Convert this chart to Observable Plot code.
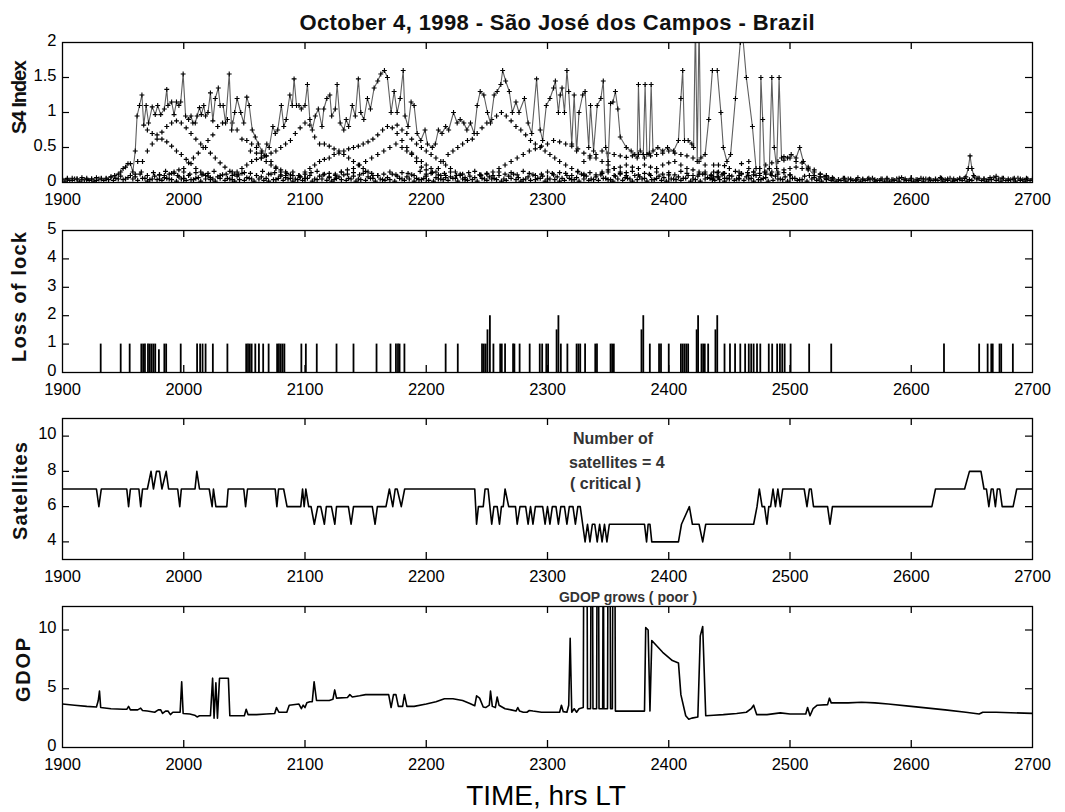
<!DOCTYPE html>
<html><head><meta charset="utf-8">
<script src="https://cdn.jsdelivr.net/npm/d3@7"></script>
<script src="https://cdn.jsdelivr.net/npm/@observablehq/plot@0.6"></script>
<style>
body{margin:0;background:#fff;}
#wrap{position:relative;width:1065px;height:812px;overflow:hidden;background:#fff;font-family:"Liberation Sans",Arial,Helvetica,sans-serif;}
#overlay{position:absolute;left:0;top:0;pointer-events:none;}
</style></head><body><div id="wrap"></div>
<script>
// ---------------- DATA ----------------
const xTicks = [1900, 2000, 2100, 2200, 2300, 2400, 2500, 2600, 2700];
const s4Ticks = [0, 0.5, 1, 1.5, 2];
const lossTicks = [0, 1, 2, 3, 4, 5];
const satTicks = [4, 6, 8, 10];
const gdopTicks = [0, 5, 10];

const titleText = "October 4, 1998 - São José dos Campos - Brazil";
const yLabels = ["S4 Index", "Loss of lock", "Satellites", "GDOP"];
const xLabel = "TIME, hrs LT";
const noteSats = ["Number of", "satellites = 4", "( critical )"];
const noteGdop = "GDOP grows ( poor )";

// S4 maximum envelope [time, S4]
const s4Envelope = [
[1900,0.05],[1904,0.04],[1908,0.06],[1912,0.05],[1916,0.04],[1920,0.06],[1924,0.05],[1928,0.07],[1932,0.05],[1936,0.06],[1940,0.08],[1943,0.1],[1946,0.12],[1948,0.15],[1950,0.2],[1952,0.22],[1954,0.27],[1956,0.27],[1958,0.15],
[1960,0.45],[1961.5,0.95],[1963.5,1.1],[1965.5,1.25],[1967,0.82],[1969,1.1],[1971,0.85],[1974,1.08],[1976.5,0.97],[1978.5,1.1],[1981,0.97],[1984,1.05],[1986,1.33],[1987,1.1],[1990,1.15],[1992,0.97],[1994,1.15],[1996,1.1],[1997.5,1.15],[1999.5,1.55],
[2001.5,0.95],[2004,0.9],[2006,0.95],[2007.5,0.85],[2009.5,0.85],[2011,0.95],[2013,1.07],[2014.5,0.97],[2016.5,1.1],[2018,0.95],[2020,1.0],[2022,1.28],[2024,0.88],[2026,1.2],[2028.5,1.35],[2030,1.1],[2032.5,1.1],[2034.5,0.85],[2037.5,1.55],[2039.5,0.75],
[2042,1.0],[2044,1.2],[2047,1.0],[2049.5,0.85],[2052,1.22],[2054,1.1],[2056.5,0.75],[2059,0.65],[2061.5,0.55],[2064.5,0.45],[2066.5,0.38],[2068.5,0.55],[2070.5,0.5],[2073.5,0.8],[2075.5,0.7],[2077.5,0.75],[2080.5,1.1],[2082.5,0.8],[2084.5,0.9],[2087.5,1.25],
[2089.5,1.1],[2091,1.48],[2093,1.1],[2095,1.1],[2097,1.05],[2100,1.1],[2102,1.4],[2104,0.9],[2106,0.75],[2108.5,0.95],[2111,1.05],[2114,0.8],[2115.5,1.05],[2118,1.2],[2120.5,1.25],[2122,0.95],[2125,1.05],[2126.5,1.4],[2129,0.85],[2132,0.75],
[2134,0.9],[2136,0.8],[2139,1.1],[2141.5,0.95],[2144,1.48],[2146,1.0],[2148.5,0.9],[2151.5,1.2],[2154,1.05],[2157,1.35],[2160,1.45],[2162.5,1.55],[2165.5,1.6],[2168,1.5],[2171,1.0],[2173.5,1.3],[2176,1.0],[2178.5,1.2],[2181,1.6],[2182.5,0.95],
[2185,0.8],[2187.5,1.15],[2190,1.1],[2192.5,0.7],[2195.5,0.6],[2199,0.75],[2201,0.55],[2205,0.5],[2207.5,0.55],[2210,0.75],[2213,0.7],[2216,0.8],[2218.5,0.75],[2222.5,1.0],[2225.5,0.85],[2228,0.9],[2231,0.85],[2233.5,0.75],[2236.5,0.85],[2239.5,0.7],
[2242,1.1],[2244.5,1.3],[2247.5,1.25],[2250.5,1.0],[2253,0.85],[2256,1.25],[2258.5,1.3],[2261.5,1.4],[2263,1.6],[2265.5,1.45],[2268.5,1.3],[2271,1.0],[2274,1.15],[2276.5,1.0],
[2281,1.2],[2284,0.85],[2287,0.7],[2291,1.48],[2294,0.75],[2296,0.6],[2299,1.1],[2302,1.2],[2305,1.35],[2306.5,1.45],[2309,1.0],[2310.5,1.25],[2312,1.35],[2314,1.0],[2316,1.6],[2317.5,1.3],[2320,0.55],[2322,1.25],[2324,0.45],[2326,1.0],
[2329,1.25],[2331,1.3],[2334,0.5],[2335.5,1.1],[2338,0.45],[2341,1.1],[2344,1.2],[2346,1.45],[2348,0.5],[2350,0.3],[2352,1.13],[2354,1.15],[2356,1.3],[2358,1.05],[2360,0.65],[2365,0.5],[2369,0.45],[2372,0.4],[2374,0.35],[2375,1.4],
[2376.5,0.45],[2379,0.4],[2380.5,1.4],[2382,0.4],[2384,0.42],[2385.5,1.4],[2387,0.45],[2391,0.5],[2395,0.45],[2399,0.5],[2404,0.45],[2408,0.6],[2410,1.2],[2411.5,1.6],[2413,0.6],[2416,0.6],[2419,0.55],[2420.5,0.5],[2422,2.3],[2423.5,0.3],
[2425,2.3],[2426.5,0.35],[2430,0.4],[2433,0.9],[2436,1.6],[2440,1.6],[2443,1.0],[2445,0.5],[2448,0.3],[2451,0.4],[2455,1.2],[2459,2.0],[2461,2.1],[2464,1.5],[2469,0.8],[2472,0.2],[2475,0.2],[2476,1.5],[2477.5,0.9],[2479,0.15],
[2483,0.2],[2485,1.5],[2487,0.5],[2489,0.2],[2491,1.5],[2493,0.35],[2495,0.37],[2498,0.35],[2501,0.4],[2505,0.35],[2508,0.5],[2511,0.3],[2515,0.2],[2520,0.1],[2525,0.08],[2530,0.06],
[2535,0.05],[2540,0.04],[2545,0.06],[2550,0.05],[2555,0.04],[2560,0.05],[2565,0.06],[2570,0.04],[2575,0.05],[2580,0.05],[2585,0.04],[2590,0.06],[2595,0.05],[2600,0.06],[2605,0.04],[2610,0.05],[2615,0.05],[2620,0.04],[2625,0.06],[2630,0.05],
[2635,0.05],[2640,0.06],[2645,0.08],[2647,0.2],[2648.5,0.38],[2650,0.2],[2651.5,0.1],[2655,0.06],[2660,0.05],[2665,0.07],[2670,0.09],[2675,0.06],[2680,0.05],[2685,0.06],[2690,0.05],[2695,0.06],[2700,0.05]
];

// S4 of the other satellites (tracks) [time, S4]
const s4TrackA = [[1970,0.75],[1974,0.7],[1978,0.68],[1982,0.62],[1986,0.58],[1990,0.52],[1994,0.45],[1998,0.4],[2002,0.33],[2006,0.27],[2010,0.2],[2014,0.15],[2018,0.1],[2022,0.07]];
const s4TrackB = [[1962,0.3],[1966,0.3],[1970,0.45],[1974,0.55],[1978,0.62],[1982,0.72],[1986,0.8],[1990,0.85],[1994,0.88],[1998,0.85],[2002,0.78],[2006,0.7],[2010,0.62],[2014,0.55],[2018,0.5],[2022,0.42],[2026,0.35],[2030,0.28],[2034,0.22],[2038,0.16],[2042,0.12]];
const s4TrackC = [[1980,0.05],[1984,0.1],[1988,0.12],[1992,0.15],[1996,0.18],[2000,0.2],[2004,0.28],[2008,0.35],[2012,0.42],[2016,0.5],[2020,0.6],[2024,0.68],[2028,0.8],[2032,0.85],[2036,0.9],[2040,0.85],[2044,0.75],[2048,0.62],[2052,0.6],[2056,0.55],[2060,0.5],[2064,0.42],[2068,0.38],[2072,0.3],[2076,0.22],[2080,0.15],[2084,0.1],[2088,0.06]];
const s4TrackD = [[2040,0.1],[2044,0.15],[2048,0.2],[2052,0.25],[2056,0.3],[2060,0.33],[2064,0.35],[2068,0.38],[2072,0.42],[2076,0.45],[2080,0.5],[2084,0.55],[2088,0.6],[2092,0.7],[2096,0.78],[2100,0.85],[2104,0.82],[2108,0.65],[2112,0.55],[2116,0.55],[2120,0.52],[2124,0.48],[2128,0.45],[2132,0.4],[2136,0.35],[2140,0.3],[2144,0.25],[2148,0.2],[2152,0.15],[2156,0.1]];
const s4TrackE = [[2055,0.45],[2060,0.42],[2064,0.35],[2068,0.3],[2072,0.25],[2076,0.2],[2080,0.18],[2084,0.15],[2090,0.1],[2096,0.08]];
const s4TrackF = [[2095,0.1],[2100,0.15],[2104,0.2],[2108,0.25],[2112,0.3],[2116,0.33],[2120,0.35],[2124,0.4],[2128,0.42],[2132,0.45],[2136,0.48],[2140,0.5],[2144,0.52],[2148,0.55],[2152,0.58],[2156,0.62],[2160,0.68],[2164,0.75],[2168,0.8],[2172,0.78],[2176,0.7],[2180,0.6],[2184,0.5],[2188,0.42],[2192,0.35],[2196,0.3],[2200,0.25],[2204,0.2],[2208,0.15],[2212,0.1],[2216,0.07]];
const s4TrackG = [[2120,0.08],[2125,0.12],[2130,0.15],[2135,0.18],[2140,0.2],[2145,0.25],[2150,0.3],[2155,0.35],[2160,0.4],[2165,0.45],[2170,0.5],[2175,0.55],[2180,0.5],[2184,0.45],[2188,0.4],[2192,0.3],[2196,0.22],[2200,0.18]];
const s4TrackH = [[2176,0.82],[2180,0.75],[2184,0.7],[2188,0.62],[2192,0.55],[2196,0.5],[2200,0.45],[2204,0.4],[2208,0.35],[2212,0.3],[2216,0.25],[2220,0.2],[2224,0.15],[2228,0.1],[2232,0.07]];
const s4TrackI = [[2205,0.15],[2210,0.2],[2214,0.3],[2218,0.4],[2222,0.45],[2226,0.5],[2230,0.55],[2234,0.6],[2238,0.62],[2242,0.7],[2246,0.78],[2250,0.85],[2254,0.9],[2258,0.95],[2262,1.0],[2266,0.95],[2270,0.88],[2274,0.8],[2278,0.75],[2282,0.68],[2286,0.6],[2290,0.55],[2294,0.5],[2298,0.45],[2302,0.4],[2306,0.35],[2310,0.3],[2315,0.25],[2320,0.2],[2325,0.15],[2330,0.1]];
const s4TrackJ = [[2245,0.1],[2250,0.12],[2255,0.15],[2260,0.2],[2265,0.25],[2270,0.3],[2275,0.35],[2280,0.4],[2285,0.45],[2290,0.48],[2295,0.52],[2300,0.55],[2305,0.6],[2310,0.58],[2315,0.55],[2320,0.52],[2325,0.48],[2330,0.42],[2335,0.38],[2340,0.35],[2345,0.3],[2350,0.25],[2355,0.2],[2360,0.15],[2365,0.1]];
const s4TrackK = [[2330,0.3],[2335,0.35],[2340,0.4],[2345,0.45],[2350,0.42],[2355,0.4],[2360,0.38],[2365,0.36],[2370,0.38],[2375,0.4],[2380,0.35],[2385,0.38],[2390,0.4],[2395,0.42],[2400,0.45],[2405,0.42],[2410,0.4],[2415,0.38],[2420,0.35],[2425,0.3],[2430,0.25]];
const s4TrackL = [[2345,0.15],[2350,0.18],[2355,0.2],[2360,0.22],[2365,0.25],[2370,0.22],[2375,0.2],[2380,0.25],[2385,0.22],[2390,0.2],[2395,0.25],[2400,0.28],[2405,0.3],[2410,0.25],[2415,0.2],[2420,0.18],[2425,0.15],[2430,0.12],[2435,0.1]];
const s4TrackM = [[2437,0.25],[2437,0.15],[2437,0.08],[2441,0.25],[2441,0.15],[2441,0.08],[2446,0.24],[2446,0.13],[2446,0.06],[2450,0.2],[2450,0.1],[2458,0.15],[2458,0.1],[2458,0.05],[2460,0.27],[2466,0.3],[2466,0.2],[2466,0.1],[2470,0.15]];
const s4TrackN = [[2470,0.15],[2475,0.2],[2480,0.25],[2485,0.28],[2490,0.3],[2495,0.32],[2500,0.35],[2505,0.3],[2510,0.28],[2515,0.22],[2520,0.18],[2525,0.12],[2530,0.1],[2535,0.07]];
const s4TrackO = [[2475,0.1],[2480,0.12],[2485,0.15],[2490,0.15],[2495,0.18],[2500,0.2],[2505,0.22],[2510,0.2],[2515,0.18],[2520,0.15],[2525,0.12],[2530,0.08]];

// near-zero S4 of low-scintillation satellites, sampled every 4 (A from 1900, B from 1902) and every 5 (C from 1960)
const s4FloorA = [
0.04,0.06,0.03,0.05,0.07,0.04,0.05,0.03,0.06,0.05,
0.08,0.06,0.09,0.05,0.1,0.08,0.12,0.06,0.04,0.09,
0.11,0.07,0.05,0.13,0.08,0.06,0.1,0.04,0.07,0.12,
0.09,0.05,0.08,0.11,0.06,0.04,0.09,0.13,0.07,0.05,
0.1,0.08,0.06,0.12,0.04,0.09,0.07,0.11,0.05,0.08,
0.06,0.1,0.05,0.09,0.12,0.07,0.04,0.08,0.11,0.06,
0.09,0.05,0.13,0.08,0.06,0.1,0.04,0.07,0.12,0.09,
0.05,0.08,0.11,0.06,0.04,0.09,0.13,0.07,0.05,0.1,
0.08,0.06,0.12,0.04,0.09,0.07,0.11,0.05,0.08,0.06,
0.1,0.05,0.09,0.12,0.07,0.04,0.08,0.11,0.06,0.09,
0.05,0.13,0.08,0.06,0.1,0.04,0.07,0.12,0.09,0.05,
0.08,0.11,0.06,0.04,0.09,0.13,0.07,0.05,0.1,0.08,
0.06,0.12,0.04,0.09,0.07,0.11,0.05,0.08,0.06,0.1,
0.05,0.09,0.12,0.07,0.04,0.08,0.11,0.06,0.09,0.05,
0.13,0.08,0.06,0.1,0.04,0.07,0.12,0.09,0.05,0.08,
0.11,0.06,0.04,0.09,0.1,0.07,0.05,0.08,0.06,0.05,
0.04,0.06,0.05,0.03,0.07,0.04,0.05,0.06,0.03,0.05,
0.06,0.04,0.05,0.07,0.03,0.05,0.04,0.06,0.05,0.04,
0.05,0.07,0.04,0.06,0.03,0.05,0.06,0.04,0.08,0.06,
0.05,0.04,0.07,0.05,0.06,0.03,0.05,0.06,0.04,0.05,
0.05];
const s4FloorB = [
0.02,0.03,0.05,0.02,0.04,0.03,0.02,0.05,0.03,0.04,
0.03,0.05,0.04,0.07,0.05,0.03,0.06,0.02,0.05,0.04,
0.03,0.06,0.04,0.02,0.05,0.03,0.04,0.06,0.02,0.05,
0.04,0.02,0.06,0.03,0.05,0.02,0.04,0.03,0.06,0.02,
0.05,0.03,0.02,0.04,0.06,0.03,0.05,0.02,0.04,0.03,
0.06,0.02,0.04,0.05,0.03,0.02,0.06,0.04,0.03,0.05,
0.02,0.04,0.03,0.06,0.02,0.05,0.03,0.04,0.02,0.06,
0.03,0.05,0.02,0.04,0.06,0.03,0.02,0.05,0.04,0.03,
0.06,0.02,0.05,0.03,0.04,0.02,0.06,0.03,0.05,0.04,
0.02,0.03,0.06,0.04,0.02,0.05,0.03,0.04,0.06,0.02,
0.05,0.04,0.02,0.03,0.06,0.04,0.02,0.05,0.03,0.04,
0.03,0.06,0.04,0.02,0.05,0.03,0.06,0.02,0.04,0.05,
0.02,0.04,0.06,0.03,0.02,0.05,0.04,0.03,0.06,0.02,
0.04,0.02,0.05,0.06,0.03,0.04,0.02,0.05,0.03,0.06,
0.03,0.05,0.02,0.04,0.06,0.02,0.03,0.05,0.04,0.02,
0.06,0.03,0.04,0.02,0.05,0.03,0.02,0.04,0.03,0.02,
0.03,0.02,0.04,0.03,0.02,0.03,0.04,0.02,0.03,0.02,
0.02,0.03,0.02,0.04,0.03,0.02,0.03,0.02,0.04,0.03,
0.03,0.02,0.03,0.02,0.04,0.03,0.02,0.03,0.05,0.03,
0.02,0.04,0.03,0.02,0.03,0.04,0.02,0.03,0.02,0.03];
const s4FloorC = [
0.12,0.15,0.1,0.14,0.11,0.16,0.13,0.1,0.15,0.12,
0.14,0.11,0.13,0.16,0.1,0.12,0.15,0.11,0.14,0.13,
0.1,0.16,0.12,0.14,0.11,0.13,0.15,0.1,0.12,0.14,
0.16,0.11,0.13,0.1,0.15,0.12,0.14,0.11,0.16,0.13,
0.1,0.12,0.15,0.11,0.14,0.13,0.1,0.16,0.12,0.14,
0.11,0.13,0.15,0.1,0.12,0.14,0.16,0.11,0.13,0.1,
0.15,0.12,0.14,0.11,0.16,0.13,0.1,0.12,0.15,0.11,
0.14,0.13,0.1,0.16,0.12,0.14,0.11,0.13,0.15,0.1,
0.12,0.14,0.16,0.11,0.13,0.1,0.15,0.12,0.14,0.11,
0.16,0.13,0.1,0.12,0.15,0.11,0.14,0.13,0.1,0.16,
0.12,0.14,0.11,0.13,0.15,0.1,0.12,0.14,0.11];

// Loss of lock events [time, count]
const lossEvents = [
[1931.5,1],[1948,1],[1955.4,1],[1965,1],[1966.5,1],[1968,1],[1970.5,1],[1972,1],[1973.5,1],[1975,1],[1976.5,1],[1979.5,0.8],[1984,1],[1985.5,1],
[1997.5,1],[2011,1],[2013.5,1],[2015.5,1],[2018,1],[2024,1],[2036,1],[2051.5,1],[2053,1],[2054.5,1],[2056,1],[2059,1],[2062,1],[2065.5,1],[2070,1],
[2077,1],[2078.5,1],[2080,1],[2081.5,1],[2083,1],[2097,1],[2100.7,1],[2109.7,1],[2126,1],[2140,1],[2159,1],[2170.5,1],[2175,1],[2176.7,1],[2178,1],[2182,1],
[2216,1],[2226,1],[2246,1],[2247.5,1],[2249,1],[2250.5,1.5],[2252.5,2],[2255.4,1],[2261,1],[2262.3,1],[2265,1],[2271.6,1],[2272.7,1],[2277,1],
[2285.3,1],[2293.6,1],[2295.6,1],[2299,1],[2300.5,1],[2307.5,1.5],[2309,2],[2311,1],[2316.4,1],[2324,1],[2325.5,1],[2327,1],[2331,1],[2339.4,1],[2340.8,1],
[2352,1],[2353.3,1],[2354.7,1],[2377.5,1.5],[2379,2],[2384.4,1],[2392,1],[2393.6,1],[2400,1],[2410,1],[2411.5,1],[2413,1],[2414.5,1],[2416,1],
[2423,1.5],[2424.2,2],[2427,1],[2428.4,1],[2429.7,1],[2432.5,1],[2438.5,1.5],[2440,2],[2446,1],[2450.5,1],[2454.7,1],[2459,1],[2463,1],[2466,1],[2468,1],
[2470,1],[2472.8,1],[2475.5,1],[2482.5,1],[2485.3,1],[2489.4,1],[2491.7,1],[2493.6,1],[2495.6,1],[2500.5,1],[2515.8,1],[2534,1],
[2627,1],[2656,1],[2663,1],[2666,1],[2667.2,1],[2672.8,1],[2674.2,1],[2683.8,1]
];

// Number of satellites [time, count]
const satellites = [
[1900,7],[1928,7],[1930,6],[1932,7],[1953,7],[1954.5,6],[1956,7],[1963,7],[1964.5,6],[1966,7],
[1970,7],[1973,8],[1975,7],[1977.5,8],[1980,8],[1982,7],[1985.5,8],[1987.5,7],[1995,7],[1996.7,6],[1998,7],
[2009.3,7],[2010.8,8],[2013,7],[2021,7],[2023.4,6],[2024.5,7],[2026.5,6],[2035.5,6],[2036.6,7],[2049.5,7],[2051,6],[2052.6,7],
[2075.4,7],[2076.8,6],[2078.2,7],[2082.4,7],[2085.2,6],[2096.5,6],[2098,7],[2099.3,6],[2100.7,7],[2103,6],[2105,6],[2107.7,5],[2110.5,6],
[2113,6],[2116,5],[2117.6,6],[2121.8,6],[2124.6,5],[2126,6],[2135.8,6],[2138,5],[2140,6],[2155.5,6],[2157.8,5],[2159.7,6],[2166.8,6],
[2169.6,7],[2172.4,6],[2174.4,7],[2176,7],[2179.4,6],[2182.2,7],[2240,7],[2241.5,5],[2243,6],[2247,6],[2248.5,7],[2251,7],[2254,5],
[2255.8,6],[2258.5,6],[2260.4,5],[2262,6],[2263.5,6],[2265,7],[2268,6],[2273.6,6],[2275,5],[2277.3,6],[2282,6],[2284,5],[2286,6],
[2288,5],[2290,6],[2296,6],[2298,5],[2300,6],[2302,5],[2304,6],[2307,6],[2309,5],[2311,6],[2314,6],[2316,5],[2318,6],[2321,6],[2323,5],[2325,6],
[2327,6],[2329,5],[2331,4],[2333,5],[2335,4],[2337,5],[2339,5],[2341,4],[2343,5],[2345,4],[2347,5],[2349,4],[2351,5],[2380,5],[2381.7,4],[2383,5],
[2384.5,5],[2386,4],[2408,4],[2410.5,5],[2417,6],[2419.5,5],[2425,5],[2428,4],[2430.5,5],[2470,5],[2472.8,6],[2474.7,7],[2477,6],[2479,6],
[2481,5],[2482.5,6],[2484,6],[2486,7],[2488,6],[2490,7],[2492,6],[2494,7],[2511.7,7],[2514,6],[2516,7],[2517.5,7],[2519.4,6],[2531,6],
[2533,5],[2535,6],[2617,6],[2620,7],[2644,7],[2648,8],[2657.5,8],[2660,7],[2662,7],[2664,6],[2666,7],[2667.5,7],[2669.4,6],[2671,7],
[2673,7],[2675,6],[2684,6],[2687,7],[2700,7]
];

// GDOP [time, value] (values of 20 are off the top of the panel)
const gdop = [
[1900,3.7],[1910,3.6],[1920,3.5],[1928,3.45],[1929.5,4.0],[1930.5,4.8],[1931.5,3.4],[1940,3.3],[1950,3.25],[1953,3.25],[1954.5,3.5],[1956,3.2],
[1962,3.2],[1964.5,3.35],[1966,3.15],[1970,3.1],[1976,3.0],[1979,3.2],[1981,3.2],[1982.5,2.9],[1985,3.1],[1987,3.1],[1989,2.8],[1991,3.0],
[1997,3.0],[1998.3,5.6],[1999.5,2.9],[2005,2.85],[2009,2.75],[2011,2.6],[2013,2.7],[2022,2.7],[2023.8,5.9],[2025,2.5],[2026.5,5.5],[2027.8,2.5],
[2029.5,5.9],[2036.8,5.9],[2038,2.7],[2050,2.7],[2051.5,3.25],[2053,2.8],[2060,2.8],[2068,2.85],[2075,2.9],[2076.5,3.4],[2078.5,3.0],[2085,3.0],
[2087,3.6],[2095,3.7],[2097,3.3],[2098.5,3.6],[2100,3.4],[2101.5,3.8],[2104,3.9],[2106,3.9],[2107.5,5.6],[2109.5,4.0],[2120,4.0],[2123,4.1],
[2124.5,4.9],[2126,4.2],[2135,4.25],[2137,4.5],[2139,4.3],[2145,4.4],[2150,4.5],[2169,4.5],[2171,3.4],[2173,4.5],[2175,4.5],[2177,3.5],
[2180.5,3.5],[2182,4.5],[2184,3.5],[2190,3.5],[2200,3.7],[2208,3.9],[2215,4.15],[2222,4.15],[2230,4.0],[2236,3.75],[2240,3.55],[2241.5,4.4],
[2244,4.2],[2247,3.45],[2249,3.4],[2252,3.6],[2253,4.8],[2254.5,3.5],[2257,3.4],[2258.5,4.3],[2260,3.6],[2265,3.3],[2270,3.2],[2274,3.1],
[2275.5,3.4],[2277,3.1],[2280,3.0],[2283,3.0],[2285,3.15],[2288,3.1],[2295,3.0],[2310,3.0],[2311.5,3.6],[2313,3.05],[2316,3.0],[2317.5,3.6],
[2318.7,9.3],[2320,3.0],[2322,3.3],[2324,3.0],[2326,3.3],[2329.5,3.4],[2330,20],[2332.5,20],[2333,3.3],[2335.5,3.3],[2336,20],[2337,20],
[2337.5,3.3],[2340.5,3.3],[2341,20],[2342,20],[2342.5,3.3],[2345.5,3.3],[2346,20],[2346.5,3.3],[2349.5,3.3],[2350,20],[2351.5,20],[2352,3.3],
[2353.5,3.3],[2354,20],[2355.5,20],[2356,3.1],[2380,3.1],[2381,10.2],[2383,10.0],[2384.5,3.1],[2386,9.1],[2395,8.1],[2403,7.4],[2408,7.2],
[2410,4.5],[2414,2.7],[2416.5,2.4],[2419,2.5],[2424,2.6],[2426,9.5],[2428,10.3],[2430.5,2.7],[2437,2.75],[2445,2.8],[2456,2.9],[2464,3.0],
[2468,3.3],[2470,3.6],[2472.5,2.8],[2481,2.8],[2492,2.95],[2500,2.85],[2513,2.85],[2514.5,3.4],[2516.5,2.7],[2519,3.3],[2522.5,3.6],[2531,3.65],
[2532.5,4.2],[2534,3.8],[2548,3.8],[2559,3.85],[2570,3.8],[2581,3.7],[2600,3.5],[2614,3.35],[2628,3.2],[2645,3.0],[2656,2.85],[2659,3.0],
[2670,3.0],[2700,2.9]
];

// ---------------- RENDER ----------------
const FONT = '"Liberation Sans", Arial, Helvetica, sans-serif';
const W = 1065, ML = 62, MR = 33, MT = 10, MB = 32;
const innerW = W - ML - MR;
const wrap = document.getElementById("wrap");
const pt = d => ({t: d[0], v: d[1]});

const s4Env = s4Envelope.map(pt);
const s4Scatter = [s4TrackA, s4TrackB, s4TrackC, s4TrackD, s4TrackE, s4TrackF, s4TrackG, s4TrackH,
  s4TrackI, s4TrackJ, s4TrackK, s4TrackL, s4TrackM, s4TrackN, s4TrackO].flat().map(pt)
  .concat(s4FloorA.map((v, i) => ({t: 1900 + 4 * i, v})))
  .concat(s4FloorB.map((v, i) => ({t: 1902 + 4 * i, v})))
  .concat(s4FloorC.map((v, i) => ({t: 1960 + 5 * i, v})));

function panel(top, innerH, yDomain, yTicks, marks) {
  const xIn = xTicks.slice(1, -1);
  const yIn = yTicks.filter(d => d > yDomain[0] && d < yDomain[1]);
  const p = Plot.plot({
    width: W, height: innerH + MT + MB,
    marginLeft: ML, marginRight: MR, marginTop: MT, marginBottom: MB,
    style: {fontFamily: FONT, fontSize: "16.5px", color: "#000", background: "transparent", overflow: "visible"},
    x: {domain: [1900, 2700]},
    y: {domain: yDomain},
    marks: [
      ...marks,
      Plot.frame({stroke: "#000", strokeWidth: 1.3}),
      Plot.tickX(xIn, {x: d => d, insetTop: innerH - 7, stroke: "#000", strokeWidth: 1.3}),
      Plot.tickX(xIn, {x: d => d, insetBottom: innerH - 7, stroke: "#000", strokeWidth: 1.3}),
      Plot.tickY(yIn, {y: d => d, insetRight: innerW - 7, stroke: "#000", strokeWidth: 1.2}),
      Plot.tickY(yIn, {y: d => d, insetLeft: innerW - 7, stroke: "#000", strokeWidth: 1.2}),
      Plot.axisX({ticks: xTicks, tickSize: 0, tickPadding: 11, tickFormat: d => String(d), label: null}),
      Plot.axisY({ticks: yTicks, tickSize: 0, tickPadding: 6, dy: -2, tickFormat: d => String(d), label: null})
    ]
  });
  p.style.position = "absolute";
  p.style.left = "0px";
  p.style.top = (top - MT) + "px";
  wrap.appendChild(p);
}

// Panel 1: S4
panel(42, 140, [0, 2], s4Ticks, [
  Plot.dot(s4Scatter, {x: "t", y: "v", symbol: "plus", r: 1.7, stroke: "#000", strokeWidth: 1.2, clip: true}),
  Plot.line(s4Env, {x: "t", y: "v", stroke: "#5e5e5e", strokeWidth: 1.1, clip: true}),
  Plot.dot(s4Env, {x: "t", y: "v", symbol: "plus", r: 1.7, stroke: "#000", strokeWidth: 1.1, clip: true})
]);

// Panel 2: loss of lock
panel(230, 142, [0, 5], lossTicks, [
  Plot.ruleX(lossEvents, {x: d => d[0], y1: 0, y2: d => d[1], stroke: "#000", strokeWidth: 1.8})
]);

// Panel 3: satellites
panel(418, 141, [3, 11], satTicks, [
  Plot.line(satellites, {x: d => d[0], y: d => d[1], stroke: "#000", strokeWidth: 1.6, clip: true})
]);

// Panel 4: GDOP
panel(606, 141, [0, 12], gdopTicks, [
  Plot.line(gdop, {x: d => d[0], y: d => d[1], stroke: "#000", strokeWidth: 1.6, clip: true})
]);

// ---------------- TEXT OVERLAY ----------------
const ov = d3.select(wrap).append("svg").attr("id", "overlay")
  .attr("width", W).attr("height", 812).style("font-family", FONT);

ov.append("text").attr("x", 557).attr("y", 30).attr("text-anchor", "middle")
  .attr("font-size", 22).attr("font-weight", "bold").attr("fill", "#111")
  .attr("textLength", 515).attr("lengthAdjust", "spacing").text(titleText);

const yLab = [
  {cx: 19, cy: 97, size: 20, len: 74},
  {cx: 19, cy: 297, size: 20, len: 130},
  {cx: 19.5, cy: 491, size: 20, len: 98},
  {cx: 22.5, cy: 670, size: 20, len: 64}
];
yLabels.forEach((s, i) => {
  const o = yLab[i];
  ov.append("text").attr("transform", `translate(${o.cx},${o.cy}) rotate(-90)`)
    .attr("text-anchor", "middle").attr("dy", "0.36em")
    .attr("font-size", o.size).attr("font-weight", "bold").attr("fill", "#111")
    .attr("textLength", o.len).attr("lengthAdjust", "spacing").text(s);
});

ov.append("text").attr("x", 546).attr("y", 805).attr("text-anchor", "middle")
  .attr("font-size", 28).attr("fill", "#000").text(xLabel);

const noteX = [573, 569, 570], noteY = [444, 468, 489];
noteSats.forEach((s, i) => {
  ov.append("text").attr("x", noteX[i]).attr("y", noteY[i])
    .attr("font-size", 16).attr("font-weight", "bold").attr("fill", "#333").text(s);
});
ov.append("text").attr("x", 628).attr("y", 602).attr("text-anchor", "middle")
  .attr("font-size", 14).attr("font-weight", "bold").attr("fill", "#333").text(noteGdop);
</script>
</body></html>
